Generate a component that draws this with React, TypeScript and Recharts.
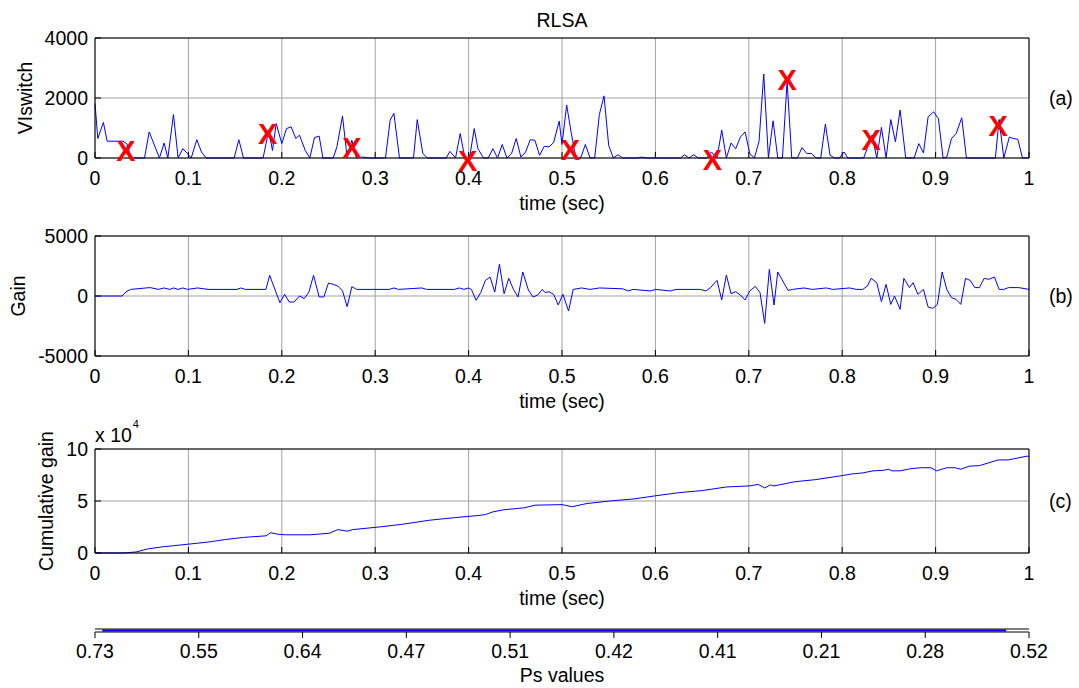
import { LineChart, Line, XAxis, YAxis, CartesianGrid, ReferenceDot } from "recharts";

const FONT = "'Liberation Sans', Arial, Helvetica, sans-serif";
const FS = 19.5;

// axis ticks
const timeTicks = [0, 0.1, 0.2, 0.3, 0.4, 0.5, 0.6, 0.7, 0.8, 0.9, 1];
const vswTicks = [0, 2000, 4000];
const gainTicks = [-5000, 0, 5000];
const cumTicks = [0, 50000, 100000];
const psLabels = ["0.73", "0.55", "0.64", "0.47", "0.51", "0.42", "0.41", "0.21", "0.28", "0.52"];
const psTicks = [0, 1, 2, 3, 4, 5, 6, 7, 8, 9];

// (a) VIswitch, [time, value]
const vlswitch: [number, number][] = [
    [0, 1820], [0.003, 650], [0.009, 1185], [0.013, 560], [0.03, 560], [0.034, 480], [0.039, 0],
    [0.053, 0], [0.058, 870], [0.069, 0], [0.074, 500], [0.078, 0], [0.084, 1450], [0.089, 0],
    [0.094, 310], [0.099, 150], [0.103, 0], [0.109, 610], [0.114, 200], [0.119, 0], [0.149, 0],
    [0.154, 610], [0.159, 0], [0.18, 0], [0.186, 930], [0.19, 250], [0.194, 1150], [0.2, 480],
    [0.205, 980], [0.21, 1040], [0.215, 650], [0.219, 760], [0.225, 260], [0.23, 0], [0.235, 680],
    [0.24, 730], [0.244, 0], [0.255, 0], [0.259, 370], [0.265, 1400], [0.27, 0], [0.275, 590],
    [0.28, 0], [0.287, 30], [0.293, 0], [0.311, 0], [0.316, 1260], [0.32, 1490], [0.326, 0],
    [0.341, 0], [0.345, 1280], [0.351, 150], [0.356, 0], [0.376, 0], [0.38, 220], [0.386, 0],
    [0.391, 815], [0.396, 0], [0.401, 0], [0.406, 980], [0.41, 310], [0.416, 0], [0.421, 0],
    [0.426, 310], [0.431, 0], [0.436, 450], [0.441, 0], [0.446, 150], [0.451, 650], [0.456, 30],
    [0.461, 200], [0.466, 610], [0.471, 590], [0.476, 90], [0.481, 390], [0.486, 370], [0.491, 510],
    [0.497, 1230], [0.5, 450], [0.505, 1765], [0.51, 815], [0.515, 0], [0.52, 0], [0.525, 450],
    [0.53, 0], [0.535, 0], [0.54, 1450], [0.545, 2070], [0.55, 420], [0.555, 0], [0.56, 110],
    [0.565, 0], [0.581, 0], [0.585, 30], [0.59, 0], [0.627, 0], [0.631, 110], [0.636, 0],
    [0.641, 110], [0.646, 0], [0.655, 0], [0.66, 200], [0.666, 0], [0.671, 930], [0.676, 0],
    [0.681, 500], [0.686, 310], [0.691, 700], [0.696, 870], [0.701, 150], [0.706, 0], [0.711, 560],
    [0.716, 2800], [0.721, 0], [0.726, 1240], [0.731, 0], [0.736, 0], [0.741, 2550], [0.746, 0],
    [0.752, 0], [0.757, 350], [0.762, 150], [0.767, 150], [0.772, 0], [0.777, 0], [0.782, 1130],
    [0.787, 90], [0.792, 0], [0.797, 0], [0.802, 200], [0.806, 0], [0.823, 0], [0.828, 420],
    [0.832, 760], [0.837, 0], [0.842, 1020], [0.847, 0], [0.852, 1280], [0.857, 540], [0.862, 1600],
    [0.868, 0], [0.877, 0], [0.882, 480], [0.887, 170], [0.892, 1375], [0.898, 1540], [0.903, 1310],
    [0.908, 0], [0.912, 30], [0.917, 650], [0.922, 815], [0.928, 1340], [0.933, 0], [0.964, 0],
    [0.968, 1285], [0.973, 0], [0.979, 700], [0.983, 650], [0.988, 625], [0.993, 0], [1, 0],
];

// red X markers on (a)
const markers: [number, number][] = [
    [0.033, 250], [0.185, 820], [0.275, 350], [0.399, -70], [0.509, 290],
    [0.661, -45], [0.741, 2600], [0.831, 600], [0.967, 1070],
];

// (b) Gain
const gain: [number, number][] = [
    [0, 0], [0.029, 0], [0.033, 330], [0.038, 550], [0.059, 700], [0.068, 550], [0.074, 670],
    [0.08, 550], [0.084, 670], [0.089, 550], [0.094, 670], [0.099, 550], [0.11, 670], [0.121, 550],
    [0.152, 550], [0.156, 670], [0.161, 550], [0.183, 550], [0.187, 1720], [0.198, -560],
    [0.203, 140], [0.208, -500], [0.213, -500], [0.219, 0], [0.224, -220], [0.229, 330],
    [0.234, 1720], [0.24, -80], [0.245, -80], [0.25, 1080], [0.255, 970], [0.26, 830], [0.265, 420],
    [0.27, -890], [0.275, 780], [0.28, 550], [0.315, 550], [0.32, 670], [0.325, 550], [0.35, 670],
    [0.355, 550], [0.385, 550], [0.39, 670], [0.395, 550], [0.4, 670], [0.403, 550], [0.408, -360],
    [0.413, 280], [0.418, 1300], [0.423, 1580], [0.428, 330], [0.433, 2640], [0.438, 190],
    [0.443, 1470], [0.448, 550], [0.453, -80], [0.458, 2000], [0.464, 500], [0.469, -80],
    [0.474, 80], [0.479, 550], [0.482, 280], [0.486, 360], [0.491, 140], [0.496, -750],
    [0.501, 140], [0.507, -1250], [0.512, 550], [0.521, 670], [0.53, 550], [0.54, 670],
    [0.565, 600], [0.571, 420], [0.576, 550], [0.595, 420], [0.6, 550], [0.616, 420], [0.622, 550],
    [0.648, 550], [0.654, 420], [0.659, 700], [0.666, 1300], [0.671, -330], [0.676, 1750],
    [0.681, 190], [0.686, 360], [0.691, 80], [0.696, -330], [0.701, 420], [0.707, 800],
    [0.712, 280], [0.717, -2280], [0.722, 2220], [0.727, -750], [0.731, 2000], [0.742, 470],
    [0.747, 550], [0.759, 670], [0.768, 550], [0.783, 670], [0.79, 550], [0.808, 670], [0.815, 550],
    [0.822, 550], [0.827, 830], [0.831, 1470], [0.837, 1110], [0.842, -470], [0.847, 970],
    [0.852, -700], [0.856, 0], [0.862, -1110], [0.866, 1470], [0.872, 700], [0.876, 1110],
    [0.881, 140], [0.887, 550], [0.892, -920], [0.897, -1030], [0.902, -700], [0.907, 2000],
    [0.912, 550], [0.917, -140], [0.922, -280], [0.927, -700], [0.932, 1470], [0.937, 1300],
    [0.942, 700], [0.947, 700], [0.952, 1470], [0.957, 1390], [0.963, 1580], [0.968, 550],
    [0.973, 550], [0.978, 700], [0.989, 700], [1, 550],
];

// (c) Cumulative gain
const cumGain: [number, number][] = [
    [0, 0], [0.03, 0], [0.044, 1000], [0.057, 4000], [0.073, 6000], [0.084, 7000], [0.1, 8500],
    [0.121, 10500], [0.14, 13000], [0.159, 15000], [0.183, 16500], [0.188, 19500], [0.196, 18000],
    [0.204, 17500], [0.23, 17500], [0.251, 19000], [0.26, 22500], [0.27, 21000], [0.276, 22500],
    [0.304, 25000], [0.328, 27500], [0.358, 31500], [0.385, 34000], [0.41, 36000], [0.418, 37000],
    [0.426, 39500], [0.437, 41500], [0.46, 43500], [0.471, 46000], [0.5, 46500], [0.511, 44500],
    [0.526, 47500], [0.551, 50000], [0.577, 52000], [0.6, 55000], [0.625, 58000], [0.65, 60000],
    [0.676, 63500], [0.701, 64500], [0.71, 66000], [0.717, 62500], [0.723, 65500], [0.727, 64500],
    [0.749, 68500], [0.771, 70500], [0.797, 74000], [0.81, 76000], [0.822, 77000], [0.833, 79000],
    [0.844, 79500], [0.85, 80500], [0.853, 79000], [0.862, 79000], [0.873, 81000], [0.884, 82000],
    [0.895, 82000], [0.901, 79000], [0.912, 82000], [0.921, 82000], [0.927, 80500], [0.936, 83500],
    [0.947, 84000], [0.967, 89500], [0.978, 89500], [0.997, 93000], [1, 93000],
];

// bottom Ps strip trace, [tick index, value]
const psTrace: [number, number][] = [[0.07, 0.5], [8.78, 0.5]];

const toRows = (pts: [number, number][]) => pts.map(([t, v]) => ({ t, v }));

const black = { stroke: "#000" };
const tickStyle = { fontSize: FS, fill: "#000" };

const RedX = (p: any) => (
    <text x={p.cx} y={p.cy} dy="0.36em" textAnchor="middle" fontSize={29}
        fontWeight="bold" fill="#ff0000">X</text>
);

function boxAxes(opts: {
    domain: [number, number];
    yTicks: number[];
    yFormat: (v: number) => string;
    yLabel: string;
    yLabelX: number;
    tag: string;
    topLabel?: any;
}) {
    return [
        <CartesianGrid key="g" stroke="#a0a0a0" />,
        <XAxis key="xb" dataKey="t" type="number" domain={[0, 1]} ticks={timeTicks} interval={0}
            tickFormatter={(v) => String(v)} tick={tickStyle} tickSize={-6} tickMargin={19}
            height={30} axisLine={black} tickLine={black}
            label={{ value: "time (sec)", position: "bottom", offset: 8, fill: "#000", fontSize: FS }} />,
        <XAxis key="xt" xAxisId="top" orientation="top" type="number" domain={[0, 1]}
            allowDataOverflow ticks={timeTicks} interval={0} tick={false} tickSize={-6} height={1}
            axisLine={black} tickLine={black} label={opts.topLabel} />,
        <YAxis key="yl" domain={opts.domain} ticks={opts.yTicks} interval={0}
            tickFormatter={opts.yFormat} tick={tickStyle} tickSize={-6} tickMargin={13} width={95}
            axisLine={black} tickLine={black}
            label={{ value: opts.yLabel, angle: -90, position: "insideLeft", offset: opts.yLabelX,
                style: { textAnchor: "middle" }, fill: "#000", fontSize: FS }} />,
        <YAxis key="yr" yAxisId="right" orientation="right" domain={opts.domain} allowDataOverflow
            ticks={opts.yTicks} interval={0} tick={false} tickSize={-6} width={50}
            axisLine={black} tickLine={black}
            label={{ value: opts.tag, position: "insideLeft", offset: 20, fill: "#000", fontSize: FS }} />,
    ];
}

export default function App() {
    return (
        <div style={{ position: "absolute", left: 0, top: 0, width: 1079, height: 688, background: "#fff", fontFamily: FONT }}>
            <div style={{ position: "absolute", left: 0, top: 0 }}>
                <LineChart width={1079} height={215} data={toRows(vlswitch)}
                    margin={{ top: 37, right: 0, left: 0, bottom: 27 }}>
                    {boxAxes({
                        domain: [0, 4000], yTicks: vswTicks, yFormat: (v) => String(v),
                        yLabel: "VIswitch", yLabelX: 25, tag: "(a)",
                        topLabel: { value: "RLSA", position: "top", offset: 10, fill: "#000", fontSize: FS },
                    })}
                    <Line type="linear" dataKey="v" stroke="#0000ff" strokeWidth={1} dot={false}
                        activeDot={false} isAnimationActive={false} />
                    {markers.map(([t, v], i) => (
                        <ReferenceDot key={i} x={t} y={v} ifOverflow="visible" shape={RedX} />
                    ))}
                </LineChart>
            </div>

            <div style={{ position: "absolute", left: 0, top: 215 }}>
                <LineChart width={1079} height={200} data={toRows(gain)}
                    margin={{ top: 20, right: 0, left: 0, bottom: 29 }}>
                    {boxAxes({
                        domain: [-5000, 5000], yTicks: gainTicks, yFormat: (v) => String(v),
                        yLabel: "Gain", yLabelX: 18, tag: "(b)",
                    })}
                    <Line type="linear" dataKey="v" stroke="#0000ff" strokeWidth={1} dot={false}
                        activeDot={false} isAnimationActive={false} />
                </LineChart>
            </div>

            <div style={{ position: "absolute", left: 0, top: 415 }}>
                <LineChart width={1079} height={200} data={toRows(cumGain)}
                    margin={{ top: 33, right: 0, left: 0, bottom: 32 }}>
                    {boxAxes({
                        domain: [0, 100000], yTicks: cumTicks, yFormat: (v) => String(v / 10000),
                        yLabel: "Cumulative gain", yLabelX: 46, tag: "(c)",
                    })}
                    <Line type="linear" dataKey="v" stroke="#0000ff" strokeWidth={1} dot={false}
                        activeDot={false} isAnimationActive={false} />
                </LineChart>
            </div>

            {/* axis multiplier of panel (c) */}
            <div style={{ position: "absolute", left: 95, top: 426, fontSize: FS, lineHeight: 1, whiteSpace: "nowrap", color: "#000" }}>
                x 10<span style={{ fontSize: 11, position: "relative", top: -14, marginLeft: 1 }}>4</span>
            </div>

            <div style={{ position: "absolute", left: 0, top: 615 }}>
                <LineChart width={1079} height={73} data={toRows(psTrace)}
                    margin={{ top: 13, right: 50, left: 95, bottom: 26 }}>
                    <XAxis dataKey="t" type="number" domain={[0, 9]} ticks={psTicks} interval={0}
                        tickFormatter={(i) => psLabels[i]} tick={tickStyle} tickSize={6} tickMargin={6}
                        height={30} axisLine={black} tickLine={black}
                        label={{ value: "Ps values", position: "bottom", offset: 6, fill: "#000", fontSize: FS }} />
                    <XAxis xAxisId="top" orientation="top" type="number" domain={[0, 9]} allowDataOverflow
                        ticks={psTicks} interval={0} tick={false} tickSize={6} height={1}
                        axisLine={black} tickLine={black} />
                    <YAxis hide width={0} domain={[0, 1]} />
                    <Line type="linear" dataKey="v" stroke="#0000ff" strokeWidth={2} dot={false}
                        activeDot={false} isAnimationActive={false} />
                </LineChart>
            </div>
        </div>
    );
}
